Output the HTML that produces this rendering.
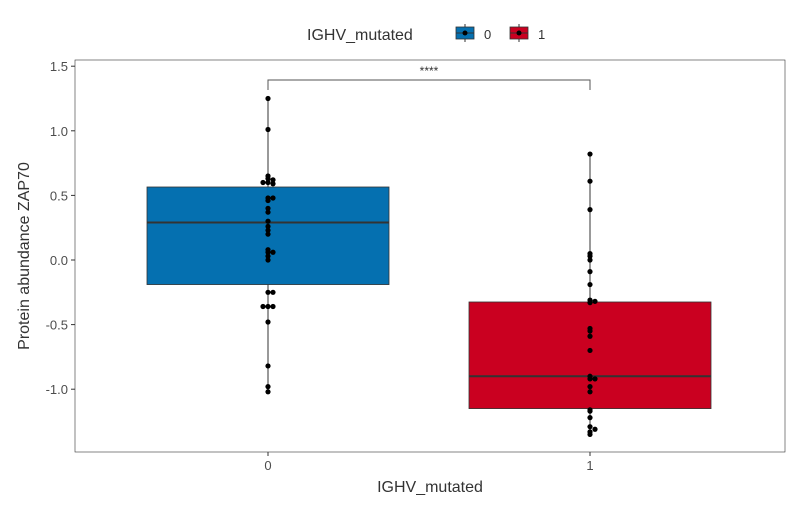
<!DOCTYPE html>
<html><head><meta charset="utf-8"><style>
body{margin:0;background:#fff;font-family:"Liberation Sans",sans-serif}
svg text{font-family:"Liberation Sans",sans-serif}
</style></head><body>
<svg id="c" width="800" height="500" xmlns="http://www.w3.org/2000/svg"></svg>
<script>
const categories=["0","1"];
const colors=["#0570b0","#ca0020"];
const q1=[-0.19,-1.15];
const medians=[0.29,-0.9];
const q3=[0.565,-0.325];
const whiskLo=[-1.02,-1.35];
const whiskHi=[1.25,0.82];
const points0=[1.25,1.01,0.65,0.63,0.62,0.6,0.59,0.6,0.48,0.48,0.46,0.4,0.37,0.3,0.26,0.23,0.2,0.08,0.06,0.06,0.03,0,-0.25,-0.25,-0.36,-0.36,-0.36,-0.48,-0.82,-0.98,-1.02];
const points1=[0.82,0.61,0.39,0.05,0.03,0,-0.09,-0.19,-0.31,-0.32,-0.33,-0.53,-0.55,-0.59,-0.7,-0.9,-0.92,-0.92,-0.98,-1.02,-1.16,-1.17,-1.22,-1.29,-1.31,-1.33,-1.35];
const yTicks=[1.5,1.0,0.5,0.0,-0.5,-1.0];
const yTickLabels=["1.5","1.0","0.5","0.0","-0.5","-1.0"];
const svg=document.getElementById('c');const NS="http://www.w3.org/2000/svg";
function mk(t,a,p,txt){
 if(typeof p==='string'){txt=p;p=null;}
 const e=document.createElementNS(NS,t);for(const k in a)e.setAttribute(k,a[k]);
 if(txt!=null)e.textContent=txt;(p||svg).appendChild(e);return e;}
const L=75,R=785,T=60,B=452;
const y=v=>260-v*129.2;
const x=i=>268+i*322;
const bw=242;
let e=mk('rect',{x:L,y:T,width:R-L,height:B-T,fill:'none',stroke:'#333','stroke-width':0.6});

yTicks.forEach((v,i)=>{
 let t=mk('line',{x1:L-4,x2:L,y1:y(v),y2:y(v),stroke:'#333'});
 
 let l=mk('text',{x:L-7,y:y(v)+5,'text-anchor':'end','font-size':13,fill:'#4d4d4d'},yTickLabels[i]);
 
});
const pts=[points0,points1];
categories.forEach((c,i)=>{
 const g=mk('g',{});
 mk('line',{x1:x(i),x2:x(i),y1:y(whiskHi[i]),y2:y(whiskLo[i]),stroke:'#333','stroke-width':1},g);
 mk('rect',{x:x(i)-bw/2,y:y(q3[i]),width:bw,height:y(q1[i])-y(q3[i]),fill:colors[i],stroke:'#333','stroke-width':0.8},g);
 mk('line',{x1:x(i)-bw/2,x2:x(i)+bw/2,y1:y(medians[i]),y2:y(medians[i]),stroke:'#333','stroke-width':2},g);
 const seen={};
 pts[i].forEach(v=>{
  const k=Math.round(y(v)/4);seen[k]=(seen[k]||0)+1;const n=seen[k]-1;
  const dx=n===0?0:(n%2?1:-1)*Math.ceil(n/2)*5;
  let p=mk('circle',{cx:x(i)+dx,cy:y(v),r:2.6,fill:'#000'},g);
  
 });
 let t=mk('line',{x1:x(i),x2:x(i),y1:B,y2:B+4,stroke:'#333'});
 
 let l=mk('text',{x:x(i),y:B+18,'text-anchor':'middle','font-size':13,fill:'#4d4d4d'},c);
 
});
let br=mk('path',{d:`M${x(0)} 90 V80 H${x(1)} V90`,fill:'none',stroke:'#555','stroke-width':1});

let st=mk('text',{x:(x(0)+x(1))/2,y:75,'text-anchor':'middle','font-size':12,fill:'#333'},'****');

let xt=mk('text',{x:430,y:492,'text-anchor':'middle','font-size':16,fill:'#333'},'IGHV_mutated');

let yt=mk('text',{x:0,y:0,'text-anchor':'middle','font-size':16,fill:'#333',transform:'translate(29,256) rotate(-90)'},'Protein abundance ZAP70');

let lg=mk('g',{});
mk('text',{x:307,y:40,'font-size':16,fill:'#333'},lg,'IGHV_mutated');
[[456,'0'],[510,'1']].forEach(([lx,lab],i)=>{
 const en=mk('g',{},lg);
 mk('line',{x1:lx+9,x2:lx+9,y1:24,y2:42,stroke:'#333'},en);
 mk('rect',{x:lx,y:27,width:18,height:12,fill:colors[i],stroke:'#333','stroke-width':0.8},en);
 mk('line',{x1:lx,x2:lx+18,y1:33,y2:33,stroke:'#333'},en);
 mk('circle',{cx:lx+9,cy:33,r:2.5,fill:'#000'},en);
 mk('text',{x:lx+28,y:39,'font-size':13,fill:'#333'},en,lab);
});
</script>
</body></html>
